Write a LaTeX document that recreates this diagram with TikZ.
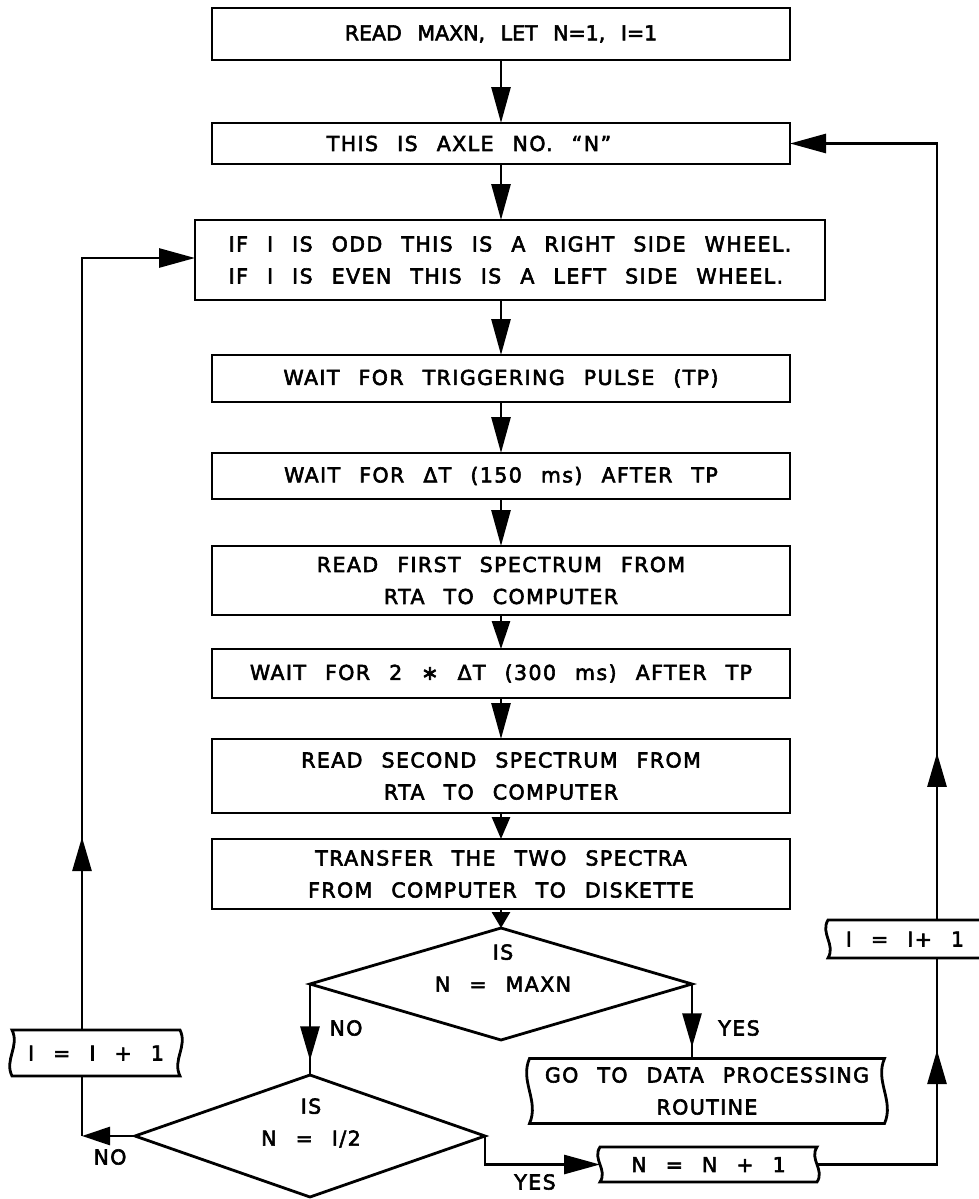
\documentclass[tikz,border=0pt]{standalone}
\usepackage{fontspec}
\setmainfont{DejaVu Sans}[LetterSpace=7, WordSpace=2.4, FakeBold=2.8]
\usetikzlibrary{arrows.meta,calc,shapes.geometric,decorations.markings}
\newcommand{\wavyframe}[2]{%
  \draw (#1.north west) -- (#1.north east)
    .. controls ($(#1.north east)!0.35!(#1.south east)+(#2,0)$) and ($(#1.north east)!0.65!(#1.south east)-(#2,0)$) .. (#1.south east)
    -- (#1.south west)
    .. controls ($(#1.south west)!0.35!(#1.north west)-(#2,0)$) and ($(#1.south west)!0.65!(#1.north west)+(#2,0)$) .. (#1.north west) -- cycle;}
\begin{document}
\begin{tikzpicture}[x=1pt,y=-1pt,line width=2.8pt,
  every node/.style={font=\fontsize{20.5}{32}\selectfont, inner sep=0pt, outer sep=0pt},
  box/.style={draw, rectangle, align=center, minimum width=578pt},
  tape/.style={rectangle, align=center},
  dia/.style={diamond, draw, inner sep=0pt},
  arr/.style={-{Triangle[length=36pt,width=19pt]}},
  sarr/.style={-{Triangle[length=#1,width=18pt]}},
  midarr/.style={postaction={decorate}, decoration={markings, mark=at position #1 with {\arrow{Triangle[length=34pt,width=19pt]}}}}]
\useasboundingbox (0,0) rectangle (979,1199);
\clip (0,0) rectangle (979,1199);

% main column
\node[box, minimum height=52pt] (b1) at (501,34) {\addfontfeature{LetterSpace=0}READ MAXN, LET N=1, I=1};
\node[box, minimum height=41pt] (b2) at (501,143.5) {THIS IS AXLE NO. “N”\hspace*{64pt}};
\node[box, minimum width=630pt, minimum height=80pt, align=left] (b3) at (510,260) {IF I IS ODD THIS IS A RIGHT SIDE WHEEL.\\IF I IS EVEN THIS IS A LEFT SIDE WHEEL.};
\node[box, minimum height=47pt] (b4) at (501,378.5) {WAIT FOR TRIGGERING PULSE (TP)};
\node[box, minimum height=46pt] (b5) at (501,476) {WAIT FOR ΔT (150 ms) AFTER TP};
\node[box, minimum height=69pt] (b6) at (501,580.5) {READ FIRST SPECTRUM FROM\\RTA TO COMPUTER};
\node[box, minimum height=49pt] (b7) at (501,673.5) {WAIT FOR 2 ∗ ΔT (300 ms) AFTER TP};
\node[box, minimum height=74pt] (b8) at (501,776) {READ SECOND SPECTRUM FROM\\RTA TO COMPUTER};
\node[box, minimum height=70pt] (b9) at (501,874) {TRANSFER THE TWO SPECTRA\\FROM COMPUTER TO DISKETTE};

% decisions
\node[dia, minimum width=382pt, minimum height=112pt] (d1) at (501,984) {};
\node[align=center] (d1t) at (503,968) {IS\\N = MAXN};
\node[dia, minimum width=350pt, minimum height=122pt] (d2) at (310,1136) {};
\node[align=center] (d2t) at (311,1123) {IS\\N = I/2};

% tape-like boxes
\node[tape, minimum width=355pt, minimum height=65pt] (go) at (707,1091) {GO TO DATA PROCESSING\\ROUTINE};
\node[tape, minimum width=217pt, minimum height=35pt] (n1) at (708.5,1164.5) {N = N + 1};
\node[tape, minimum width=168pt, minimum height=46pt] (lb) at (96,1053) {I = I + 1};
\node[tape, minimum width=162pt, minimum height=38pt] (rb) at (909,939) {I = I+ 1\hspace*{8pt}};
\wavyframe{go}{-10}
\wavyframe{n1}{-8}
\wavyframe{lb}{8}
\wavyframe{rb}{-8}

% labels
\node (no1) at (346,1028) {NO};
\node (yes1) at (739,1028) {YES};
\node (yes2) at (535,1182) {YES};
\node (no2) at (110,1157) {NO};

% corners
\coordinate (lc) at (82,1136);
\coordinate (lt) at (82,258);
\coordinate (rc) at (937,1164.5);
\coordinate (rt) at (937,143.5);

% connectors
\draw[arr] (b1.south) -- (b2.north);
\draw[arr] (b2.south) -- (b2.south |- b3.north);
\draw[arr] (b3.south -| b4.north) -- (b4.north);
\draw[arr] (b4.south) -- (b5.north);
\draw[arr] (b5.south) -- (b6.north);
\draw[sarr=28pt] (b6.south) -- (b7.north);
\draw[arr] (b7.south) -- (b8.north);
\draw[sarr=22pt] (b8.south) -- (b9.north);
\draw[sarr=16pt] (b9.south) -- (b9.south |- d1.north);
\draw[midarr=0.84] (d1.west) -- (d2.north);
\draw[midarr=0.85] (d1.east) -- (d1.east |- go.north);
\draw[arr] (d2.east) -- (d2.east |- n1.west) -- (n1.west);
\draw[sarr=28pt] (d2.west) -- (lc);
\draw (lc) -- (lc |- lb.south);
\draw[arr, midarr=0.218] (lc |- lb.north) -- (lt) -- (lt -| b3.west);
\draw[midarr=0.718] (n1.east) -- (rc) -- (rc |- rb.south);
\draw[arr, midarr=0.181] (rc |- rb.north) -- (rt) -- (rt -| b2.east);
\end{tikzpicture}
\end{document}
